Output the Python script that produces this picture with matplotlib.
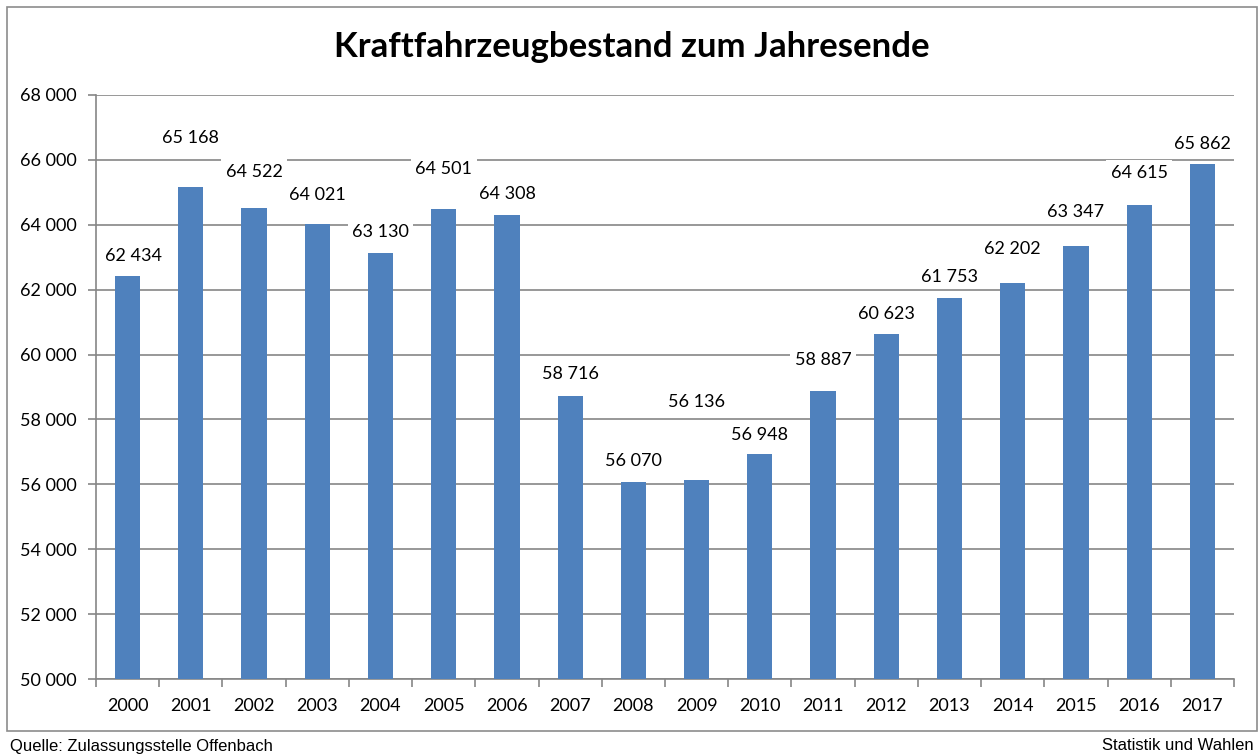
import matplotlib
matplotlib.use("Agg")
import matplotlib.pyplot as plt
from matplotlib.patches import Rectangle
import numpy as np

years = [str(y) for y in range(2000, 2018)]
values = [62434, 65168, 64522, 64021, 63130, 64501, 64308, 58716, 56070,
          56136, 56948, 58887, 60623, 61753, 62202, 63347, 64615, 65862]
# offset of each data label from its bar top, in pixels (x, y)
label_dx = [6, 0, 0, 0, 0, 0, 0, 0, 0, 0, 0, 0, 0, 0, 0, 0, 0, 0]
label_offsets = [20, 49, 36, 29, 21, 40, 21, 22, 21, 78, 19, 31, 20, 21, 34, 34, 32, 20]
yticks = list(range(50000, 68001, 2000))

title = "Kraftfahrzeugbestand zum Jahresende"
source = "Quelle: Zulassungsstelle Offenbach"
credit = "Statistik und Wahlen"

def fmt(v):
    return f"{v:,}".replace(",", " ")

fig = plt.figure(figsize=(12.6, 7.56), dpi=100)
fig.patch.set_facecolor("white")

# outer frame
fig.patches.append(Rectangle((7 / 1260, 1 - 731 / 756), 1250 / 1260, 724 / 756,
                             transform=fig.transFigure, fill=False,
                             edgecolor="#8c8c8c", linewidth=1.2, zorder=0))

ax = fig.add_axes([96 / 1260, 1 - 679 / 756, 1138 / 1260, 584 / 756])
x = np.arange(len(years))
ax.bar(x, values, width=0.4, color="#4F81BD", zorder=3, bottom=0)
ax.set_xlim(-0.5, len(years) - 0.5)
ax.set_ylim(50000, 68000)

fs = 13
ax.set_yticks(yticks)
ax.set_yticklabels([fmt(v) for v in yticks], fontfamily="Lato", fontsize=fs)
ax.set_xticks(x)
ax.set_xticklabels(years, fontfamily="Lato", fontsize=fs)
ax.tick_params(axis="x", length=0, pad=14)
ax.set_xticks(np.arange(-0.5, len(years)), minor=True)
ax.tick_params(axis="x", which="minor", length=6, color="#868686", width=1.2, direction="out")
ax.tick_params(axis="y", length=6, color="#868686", width=1.2, direction="out", pad=8)

ax.grid(axis="y", color="#868686", linewidth=1.2, zorder=0)
ax.set_axisbelow(True)
for s in ["top", "right"]:
    ax.spines[s].set_visible(False)
for s in ["left", "bottom"]:
    ax.spines[s].set_color("#868686")
    ax.spines[s].set_linewidth(1.2)

for xi, v, dx, off in zip(x, values, label_dx, label_offsets):
    ax.annotate(fmt(v), (xi, v), xytext=(dx, off), textcoords="offset pixels",
                ha="center", va="center", fontfamily="Lato", fontsize=fs,
                zorder=5,
                bbox=dict(boxstyle="square,pad=0.25", facecolor="white", edgecolor="none"))

fig.text(632 / 1260, 1 - 47 / 756, title, ha="center", va="center",
         fontfamily="Lato", fontweight="bold", fontsize=25)
fig.text(10 / 1260, 1 - 746 / 756, source, ha="left", va="center",
         fontfamily="Liberation Sans", fontsize=12)
fig.text(1254 / 1260, 1 - 746 / 756, credit, ha="right", va="center",
         fontfamily="Liberation Sans", fontsize=12)

fig.savefig("out.png", dpi=100, facecolor="white")
